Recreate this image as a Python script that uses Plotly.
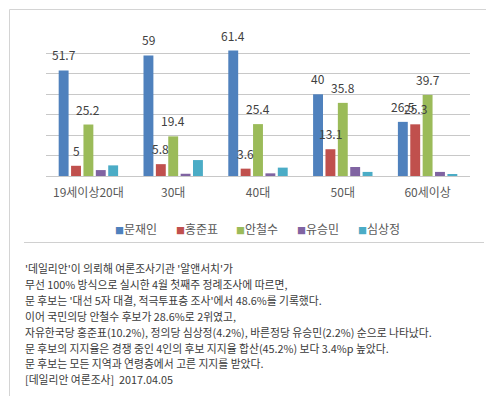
import plotly.graph_objects as go

categories = ["19세이상20대", "30대", "40대", "50대", "60세이상"]
series_names = ["문재인", "홍준표", "안철수", "유승민", "심상정"]
moon = [51.7, 59, 61.4, 40, 26.5]
hong = [5, 5.8, 3.6, 13.1, 25.3]
ahn = [25.2, 19.4, 25.4, 35.8, 39.7]
yoo = [2.9, 1.1, 1.3, 4.4, 2.0]
sim = [5.2, 7.8, 4.1, 2.0, 0.8]
series_values = [moon, hong, ahn, yoo, sim]
labelled = [True, True, True, False, False]
colors = ["#4F81BD", "#C0504D", "#9BBB59", "#8064A2", "#4BACC6"]

body_lines = [
    "'데일리안'이 의뢰해 여론조사기관 '알앤서치'가",
    "무선 100% 방식으로 실시한 4월 첫째주 정례조사에 따르면,",
    "문 후보는 '대선 5자 대결, 적극투표층 조사'에서 48.6%를 기록했다.",
    "이어 국민의당 안철수 후보가 28.6%로 2위였고,",
    "자유한국당 홍준표(10.2%), 정의당 심상정(4.2%), 바른정당 유승민(2.2%) 순으로 나타났다.",
    "문 후보의 지지율은 경쟁 중인 4인의 후보 지지율 합산(45.2%) 보다 3.4%p 높았다.",
    "문 후보는 모든 지역과 연령층에서 고른 지지를 받았다.",
    "[데일리안 여론조사]  2017.04.05",
]

W, H = 494, 396
ML, MR, MT, MB = 38, 32, 25, 228
PW, PH = W - ML - MR, H - MT - MB

def px_x(px):
    return (px - ML) / PW

def px_y(py):
    return (H - MB - py) / PH

FONT = "Noto Sans CJK KR"
BARGAP = 0.27
GROUPGAP = 0.2

fig = go.Figure()
for name, vals, col in zip(series_names, series_values, colors):
    fig.add_trace(go.Bar(x=categories, y=vals, name=name, marker_color=col,
                         marker_line_width=0, showlegend=False))

annotations = []
n = len(series_names)
slot = (1 - BARGAP) / n
for i, (vals, lab) in enumerate(zip(series_values, labelled)):
    if not lab:
        continue
    off = -(1 - BARGAP) / 2 + slot * (i + 0.5)
    for j, v in enumerate(vals):
        annotations.append(dict(x=j + off, y=v, xref="x", yref="y", text=f"{v:g}",
                                showarrow=False, yanchor="bottom", yshift=5,
                                font=dict(family=FONT, size=12, color="#404040")))

# legend
for i, (name, col) in enumerate(zip(series_names, colors)):
    annotations.append(dict(x=px_x(105 + i * 60.7), y=px_y(220.5), xref="paper", yref="paper",
                            xanchor="left", yanchor="middle", showarrow=False,
                            text=f"<span style='color:{col};font-size:9px'>■</span>{name}",
                            font=dict(family=FONT, size=12, color="#595959")))

# body text
for k, line in enumerate(body_lines):
    annotations.append(dict(x=px_x(15), y=px_y(260 + k * 15.9), xref="paper", yref="paper",
                            xanchor="left", yanchor="middle", showarrow=False, text=line,
                            font=dict(family=FONT, size=10.8, color="#3a3a3a")))

shapes = [
    dict(type="rect", xref="paper", yref="paper", x0=px_x(1.5), x1=px_x(492.5),
         y0=px_y(394.5), y1=px_y(1.5), line=dict(color="#d4d4d4", width=1), layer="above"),
    dict(type="line", xref="paper", yref="paper", x0=px_x(16), x1=px_x(476),
         y0=px_y(234.5), y1=px_y(234.5), line=dict(color="#d0d0d0", width=1)),
]

fig.update_layout(
    width=W, height=H,
    margin=dict(l=ML, r=MR, t=MT, b=MB),
    paper_bgcolor="white", plot_bgcolor="white",
    barmode="group", bargap=BARGAP, bargroupgap=GROUPGAP,
    xaxis=dict(showgrid=False, showline=False, zeroline=False, ticks="",
               ticklabelstandoff=8,
               tickfont=dict(family=FONT, size=12, color="#595959")),
    yaxis=dict(range=[0, 70], tickmode="linear", tick0=0, dtick=10,
               showticklabels=False, showgrid=True,
               gridcolor="#c8c8c8", gridwidth=1.2, zeroline=True, zerolinecolor="#c8c8c8",
               zerolinewidth=1.2, showline=False),
    annotations=annotations, shapes=shapes, showlegend=False,
)

fig.write_html("out.html")
